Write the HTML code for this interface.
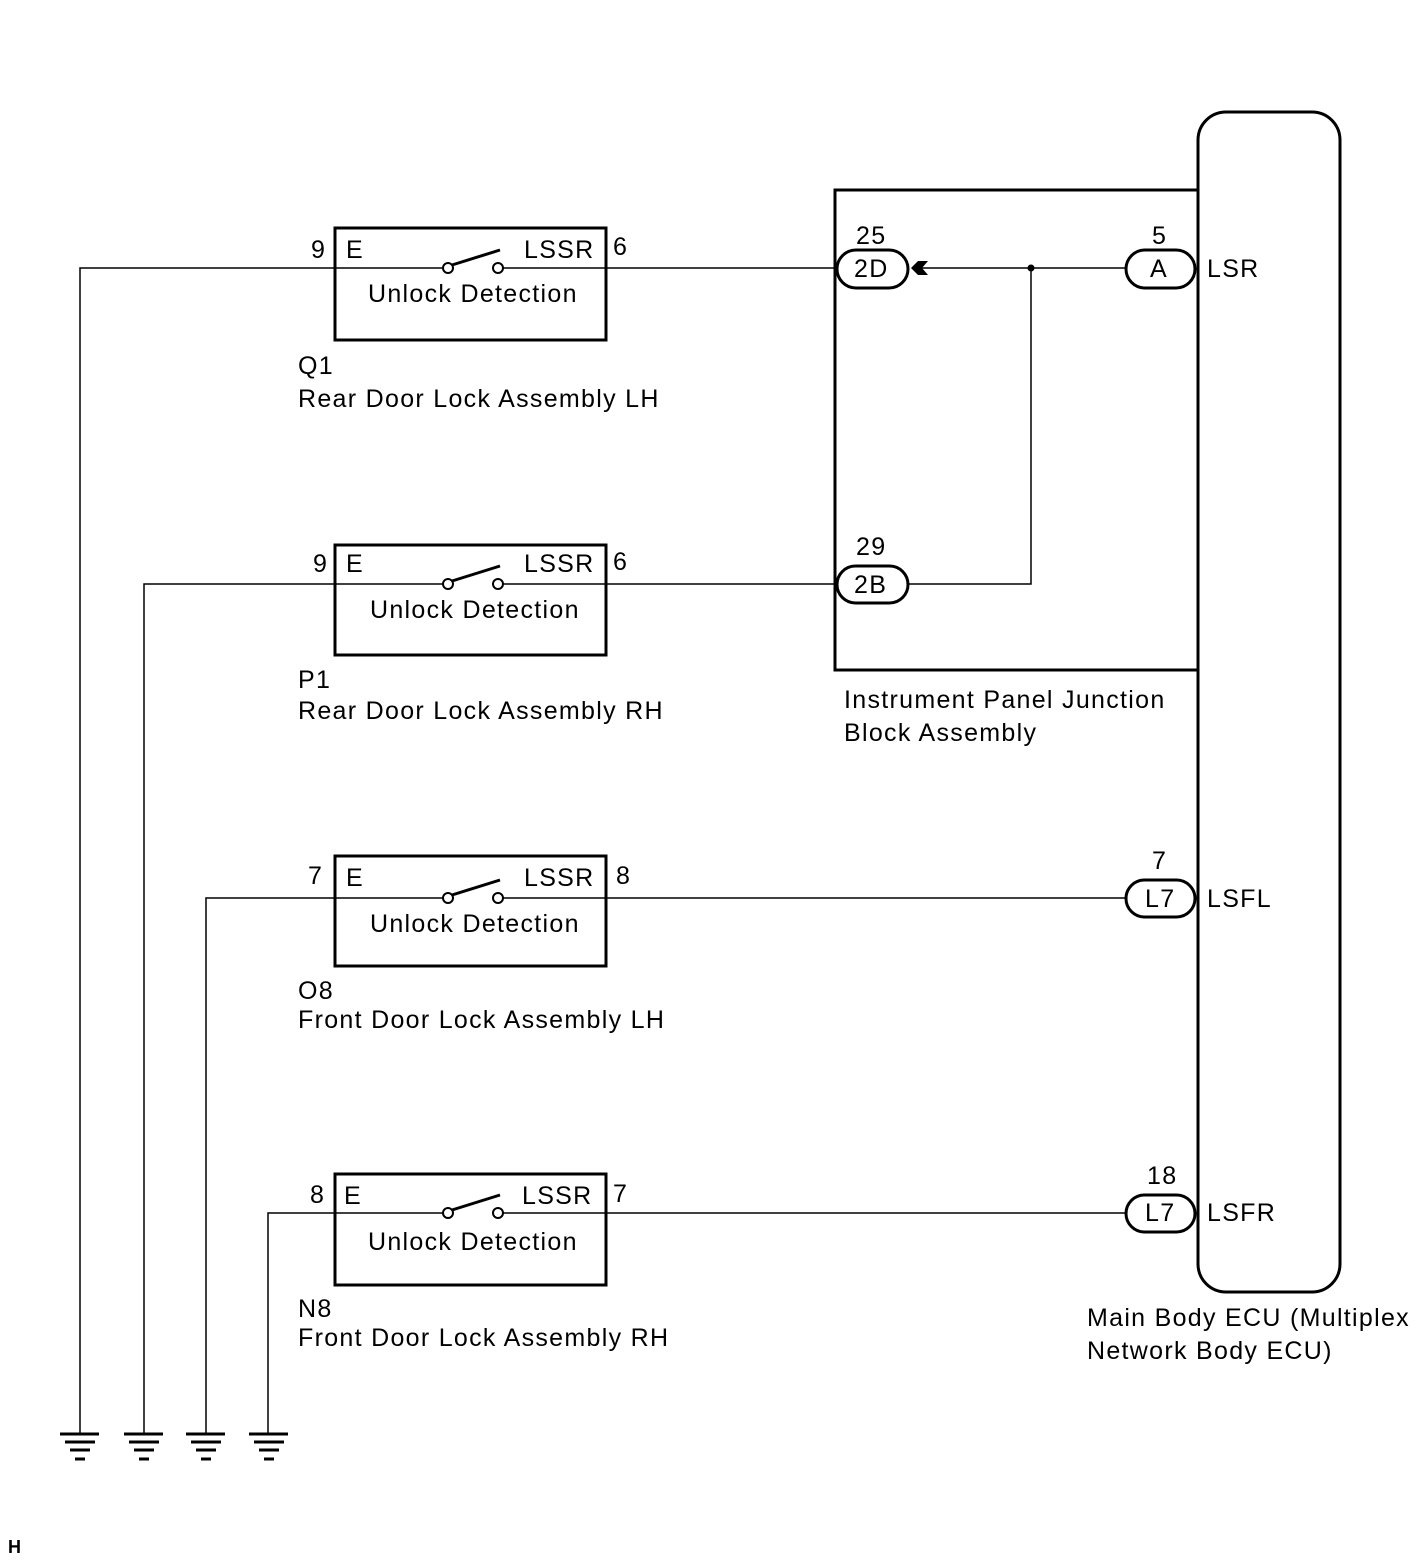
<!DOCTYPE html>
<html><head><style>
body{margin:0;background:#fff}
svg{display:block}
text{font-family:"Liberation Sans",sans-serif;font-size:25px;fill:#000;letter-spacing:1.3px}
</style></head><body>
<svg width="1424" height="1562" viewBox="0 0 1424 1562" xmlns="http://www.w3.org/2000/svg">
<g fill="none" stroke="#000">
<rect x="1198" y="112" width="142" height="1180" rx="28" stroke-width="3"/>
<polyline points="1198,190 835,190 835,670 1198,670" stroke-width="3"/>
<rect x="335" y="228" width="271" height="112" stroke-width="3"/>
<rect x="335" y="545" width="271" height="110" stroke-width="3"/>
<rect x="335" y="856" width="271" height="110" stroke-width="3"/>
<rect x="335" y="1174" width="271" height="111" stroke-width="3"/>
<g stroke-width="1.5">
<polyline points="80,1434 80,268 443,268"/><line x1="503" y1="268" x2="837" y2="268"/>
<polyline points="144,1434 144,584 443,584"/><line x1="503" y1="584" x2="837" y2="584"/>
<polyline points="206,1434 206,898 443,898"/><line x1="503" y1="898" x2="1126" y2="898"/>
<polyline points="268,1434 268,1213 443,1213"/><line x1="503" y1="1213" x2="1126" y2="1213"/>
<line x1="918" y1="268" x2="1126" y2="268"/>
<polyline points="908,584 1031,584 1031,268"/>
</g>
<g stroke-width="2">
<circle cx="448" cy="268" r="5"/><circle cx="498" cy="268" r="5"/><line x1="452" y1="265" x2="500" y2="250" stroke-width="3"/>
<circle cx="448" cy="584" r="5"/><circle cx="498" cy="584" r="5"/><line x1="452" y1="581" x2="500" y2="566" stroke-width="3"/>
<circle cx="448" cy="898" r="5"/><circle cx="498" cy="898" r="5"/><line x1="452" y1="895" x2="500" y2="880" stroke-width="3"/>
<circle cx="448" cy="1213" r="5"/><circle cx="498" cy="1213" r="5"/><line x1="452" y1="1210" x2="500" y2="1195" stroke-width="3"/>
</g>
<g stroke-width="3" fill="#fff">
<rect x="837" y="250" width="71" height="38" rx="19"/>
<rect x="1126" y="250" width="69" height="38" rx="19"/>
<rect x="837" y="566" width="71" height="37" rx="18.5"/>
<rect x="1126" y="880" width="69" height="37" rx="18.5"/>
<rect x="1126" y="1195" width="69" height="37" rx="18.5"/>
</g>
<g stroke-width="3">
<line x1="60" y1="1434" x2="99" y2="1434"/><line x1="65" y1="1442" x2="95" y2="1442"/><line x1="70" y1="1450" x2="90" y2="1450"/><line x1="75" y1="1459" x2="85" y2="1459"/>
<line x1="124" y1="1434" x2="163" y2="1434"/><line x1="129" y1="1442" x2="159" y2="1442"/><line x1="134" y1="1450" x2="154" y2="1450"/><line x1="139" y1="1459" x2="149" y2="1459"/>
<line x1="186" y1="1434" x2="225" y2="1434"/><line x1="191" y1="1442" x2="221" y2="1442"/><line x1="196" y1="1450" x2="216" y2="1450"/><line x1="201" y1="1459" x2="211" y2="1459"/>
<line x1="249" y1="1434" x2="288" y2="1434"/><line x1="254" y1="1442" x2="284" y2="1442"/><line x1="259" y1="1450" x2="279" y2="1450"/><line x1="264" y1="1459" x2="274" y2="1459"/>
</g>
</g>
<circle cx="1031" cy="268" r="3.5" fill="#000"/>
<polygon points="911,268 918,261 928,261 922,268 928,275 918,275" fill="#000"/>
<g>
<text x="311" y="258">9</text><text x="346" y="258">E</text><text x="524" y="258">LSSR</text><text x="613" y="255">6</text>
<text x="368" y="302">Unlock Detection</text>
<text x="298" y="374">Q1</text><text x="298" y="407">Rear Door Lock Assembly LH</text>

<text x="313" y="572">9</text><text x="346" y="572">E</text><text x="524" y="572">LSSR</text><text x="613" y="570">6</text>
<text x="370" y="618">Unlock Detection</text>
<text x="298" y="688">P1</text><text x="298" y="719">Rear Door Lock Assembly RH</text>

<text x="308" y="884">7</text><text x="346" y="886">E</text><text x="524" y="886">LSSR</text><text x="616" y="884">8</text>
<text x="370" y="932">Unlock Detection</text>
<text x="298" y="999">O8</text><text x="298" y="1028">Front Door Lock Assembly LH</text>

<text x="310" y="1203">8</text><text x="344" y="1204">E</text><text x="522" y="1204">LSSR</text><text x="613" y="1202">7</text>
<text x="368" y="1250">Unlock Detection</text>
<text x="298" y="1317">N8</text><text x="298" y="1346">Front Door Lock Assembly RH</text>

<text x="856" y="244">25</text><text x="854" y="277">2D</text>
<text x="1152" y="244">5</text><text x="1150" y="277">A</text><text x="1207" y="277">LSR</text>
<text x="856" y="555">29</text><text x="854" y="593">2B</text>
<text x="844" y="708">Instrument Panel Junction</text><text x="844" y="741">Block Assembly</text>
<text x="1152" y="869">7</text><text x="1145" y="907">L7</text><text x="1207" y="907">LSFL</text>
<text x="1147" y="1184">18</text><text x="1145" y="1221">L7</text><text x="1207" y="1221">LSFR</text>
<text x="1087" y="1326">Main Body ECU (Multiplex</text><text x="1087" y="1359">Network Body ECU)</text>
<text x="8" y="1553" style="font-size:18px;font-weight:bold;letter-spacing:0">H</text>
</g>
</svg>
</body></html>
